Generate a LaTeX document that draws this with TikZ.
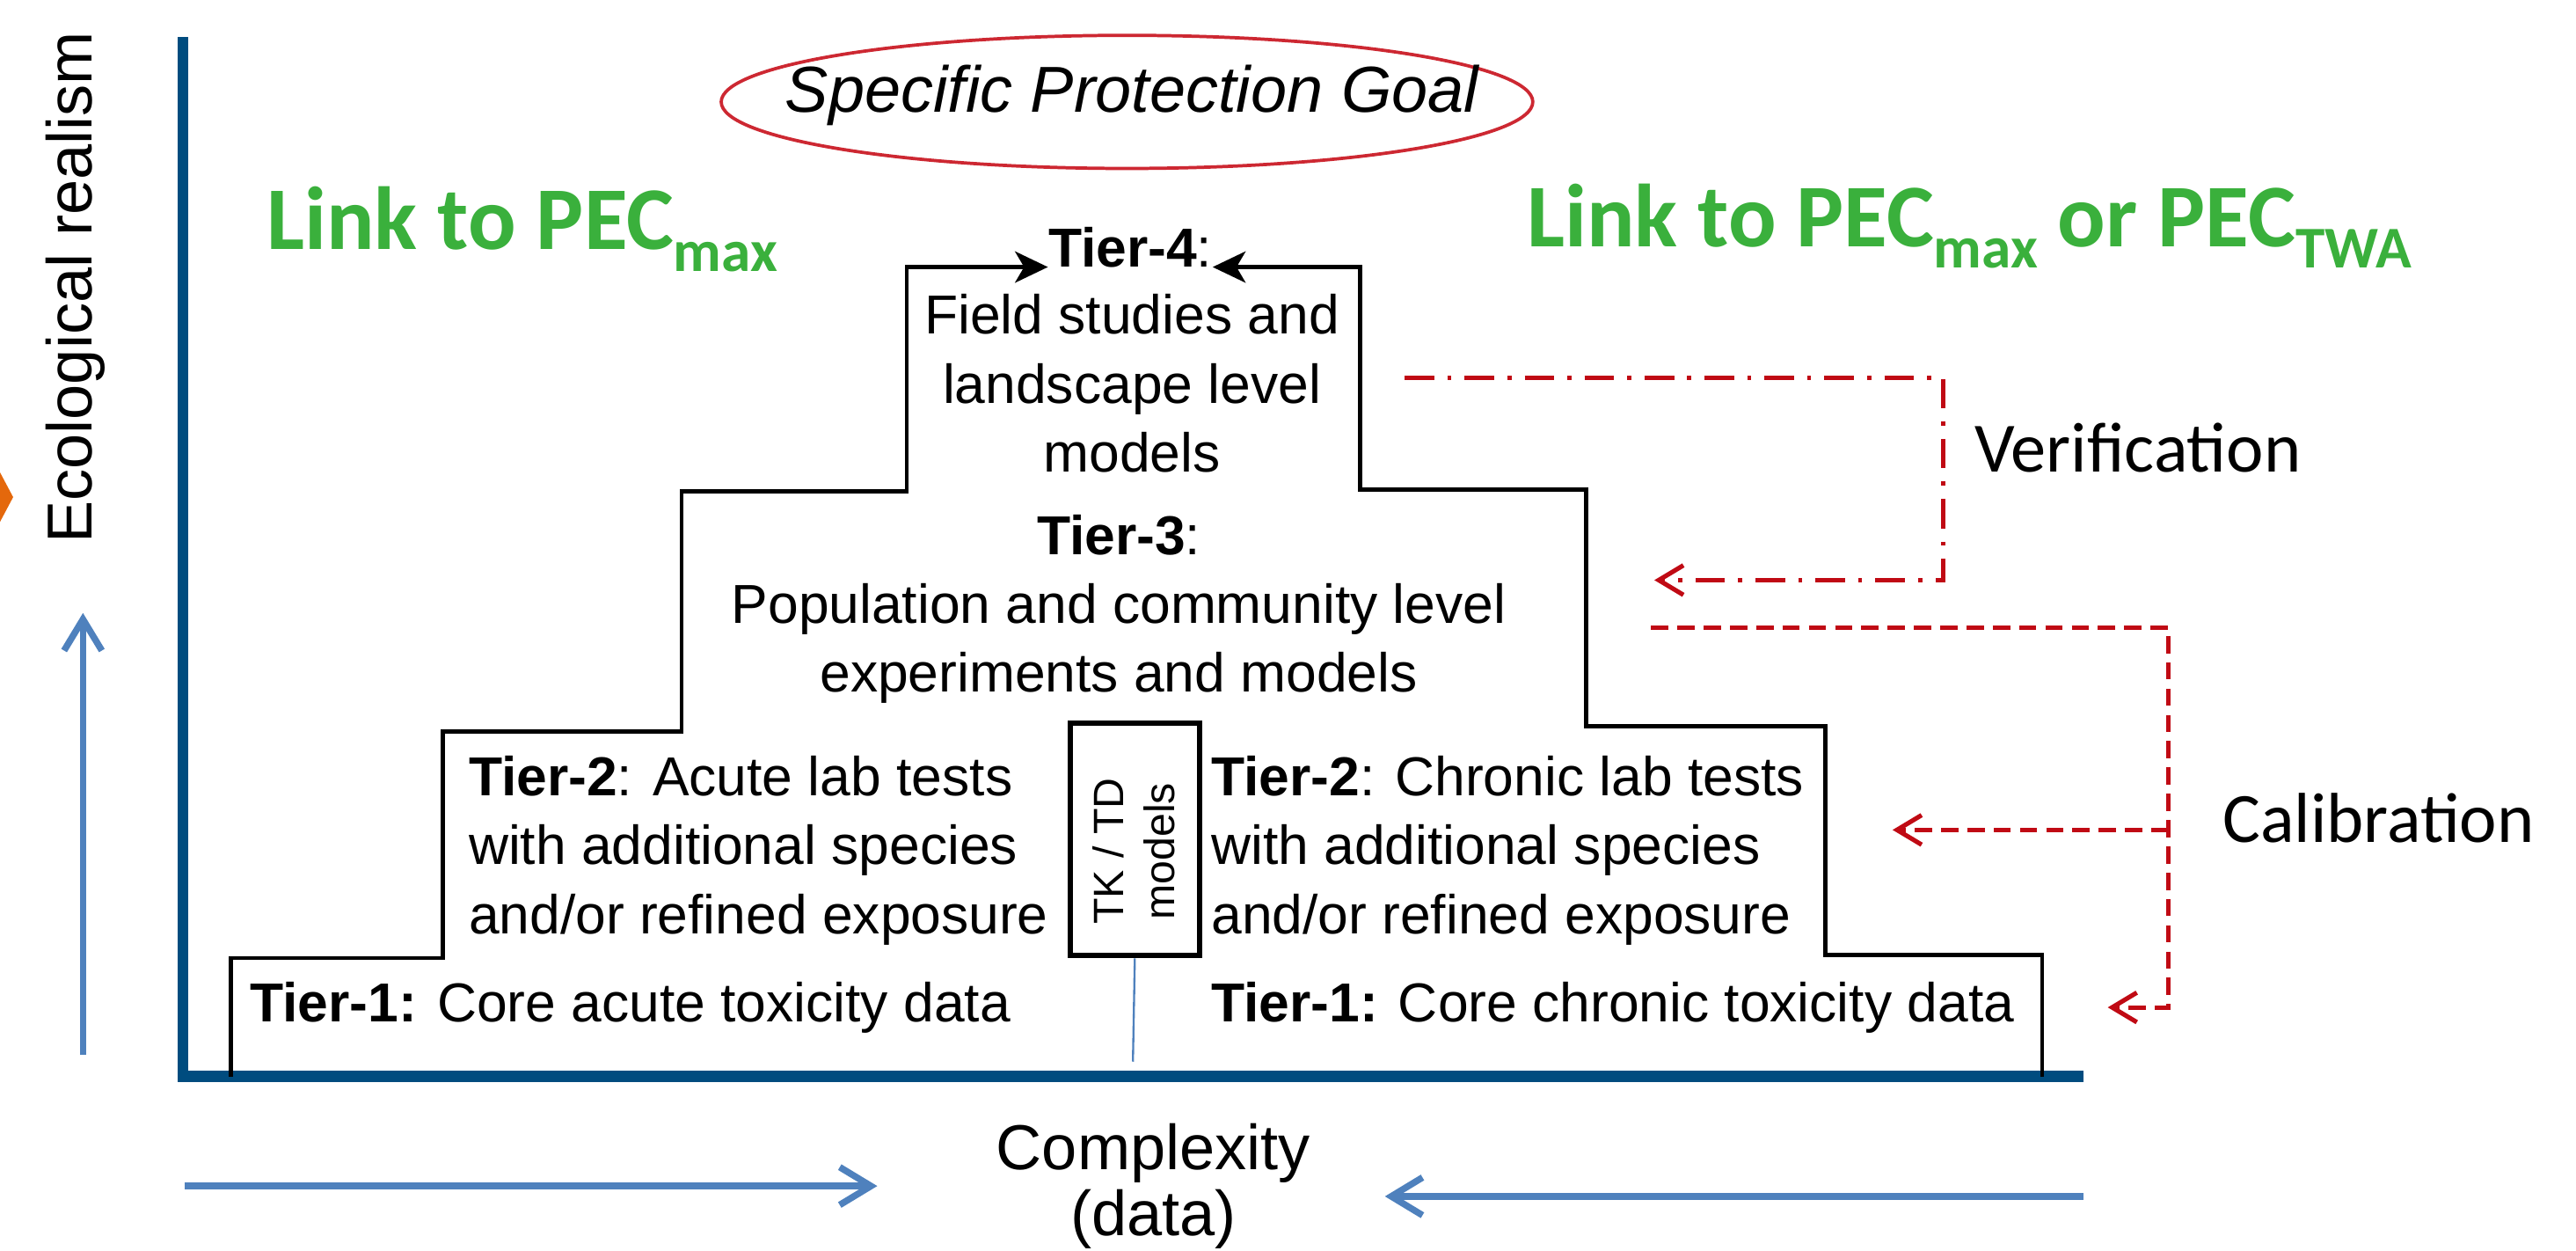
\documentclass[tikz,border=0pt]{standalone}
\usepackage{fontspec}
\setmainfont{Liberation Sans}
\newfontfamily\calfont{Carlito}
\usepackage{tikz}
\usetikzlibrary{arrows.meta,shapes.geometric}
\definecolor{axisblue}{RGB}{0,76,127}
\definecolor{trendblue}{RGB}{79,129,189}
\definecolor{linkgreen}{RGB}{58,176,60}
\definecolor{goalred}{RGB}{205,40,50}
\definecolor{loopred}{RGB}{192,10,20}
\definecolor{tabsorange}{RGB}{228,104,12}
\newcommand{\pecsub}[1]{\raisebox{-7.5pt}{\fontsize{20.5}{24}\selectfont #1}}

\begin{document}
\begin{tikzpicture}[
  x=0.2mm, y=-0.2mm,
  tiertext/.style = {anchor=base west, inner sep=0pt, align=left, font=\fontsize{19}{23.8}\selectfont},
  tierhead/.style = {anchor=base, inner sep=0pt, align=center, font=\fontsize{19}{23.8}\selectfont},
  stair/.style = {line width=0.5mm, black, line join=miter},
  stairarr/.style = {stair, -{Stealth[length=4mm,width=3.8mm,inset=1.1mm]}},
  axisline/.style = {line width=1.3mm, axisblue, line join=miter},
  trendarr/.style = {line width=0.8mm, trendblue, -{Straight Barb[length=3.8mm,width=4.6mm]}},
  axislabel/.style = {inner sep=0pt, align=center, font=\fontsize{22}{22.8}\selectfont},
  linktext/.style = {anchor=base west, inner sep=0pt, text=linkgreen, font=\calfont\bfseries\fontsize{31}{36}\selectfont},
  looplabel/.style = {anchor=base west, inner sep=0pt, font=\calfont\fontsize{24.5}{29}\selectfont},
  verifyline/.style = {loopred, line width=0.55mm, dash pattern=on 3.6mm off 1.6mm on 0.5mm off 1.6mm,
                       -{Straight Barb[length=3mm,width=3.6mm]}},
  calibline/.style = {loopred, line width=0.55mm, dash pattern=on 2.1mm off 1.1mm,
                      -{Straight Barb[length=3mm,width=3.6mm]}},
  goalring/.style = {ellipse, draw=goalred, line width=0.4mm, minimum width=98.8mm, minimum height=16.2mm, inner sep=0pt},
  tkframe/.style = {draw, line width=0.65mm, minimum width=15.7mm, minimum height=28.3mm, inner sep=0pt},
  tklabel/.style = {inner sep=0pt, align=center, font=\fontsize{14.7}{17.6}\selectfont}
]
\useasboundingbox (0,0) rectangle (1568,761);

\fill[tabsorange] (-5,278) -- (8,302.5) -- (-5,327) -- cycle;

% axes and trend arrows
\draw[axisline] (111.5,22.7) -- (111.5,655) -- (1268,655);
\coordinate (upA)  at (50.5,642);
\coordinate (upB)  at (50.5,373);
\coordinate (rgtA) at (112.6,721.7);
\coordinate (rgtB) at (534,721.7);
\coordinate (lftA) at (1268,728);
\coordinate (lftB) at (843,728);
\draw[trendarr] (upA) -- (upB);
\draw[trendarr] (rgtA) -- (rgtB);
\draw[trendarr] (lftA) -- (lftB);

\node[axislabel, anchor=base west, rotate=90] (realism) at (56,331) {Ecological realism};
% multi-line nodes sit on the baseline of their last line
\node[axislabel, anchor=base] (complexity) at (702,752) {Complexity\\(data)};

% protection goal and links
\node[goalring] (goalring) at (686,62) {};
\node[inner sep=0pt, font=\itshape\fontsize{22.5}{27}\selectfont] (goal) at (689,58) {Specific Protection Goal};
\node[linktext] (linkmax) at (162,152) {Link to PEC\pecsub{max}};
\node[linktext] (linktwa) at (929,150) {Link to PEC\pecsub{max} or PEC\pecsub{TWA}};

% tier texts
\node[tierhead] (t4head) at (688,162.5) {\textbf{Tier-4}:};
\node[tierhead] (t4body) at (689,287) {Field studies and\\landscape level\\models};
\node[tierhead] (t3) at (681,421) {\textbf{Tier-3}:\\Population and community level\\experiments and models};
\node[tiertext] (t2acute) at (285,568) {\textbf{Tier-2}: Acute lab tests\\with additional species\\and/or refined exposure};
\node[tiertext] (t2chron) at (737,568) {\textbf{Tier-2}: Chronic lab tests\\with additional species\\and/or refined exposure};
\node[tiertext] (t1acute) at (152,622) {\textbf{Tier-1:} Core acute toxicity data};
\node[tiertext] (t1chron) at (737,622) {\textbf{Tier-1:} Core chronic toxicity data};

% staircase
\draw[stairarr] (140.7,655) -- (140.7,583) -- (269.7,583) -- (269.7,445) -- (414.8,445)
  -- (414.8,299) -- (552,299) -- (552,162.5) -- (t4head.base west);
\draw[stairarr] (1243,655) -- (1243,581) -- (1111,581) -- (1111,442) -- (965.5,442)
  -- (965.5,298) -- (828,298) -- (828,162.5) -- (t4head.base east);

% TK/TD models
\node[tkframe] (tkbox) at (690.75,510.75) {};
\node[tklabel, rotate=90] (tklab) at (690,518) {TK / TD\\models};
\coordinate (tkfoot) at (689.6,646);
\draw[trendblue, line width=0.25mm] (tkbox.south) -- (tkfoot);

% verification and calibration loops
\coordinate (verA) at (855,230);
\coordinate (verB) at (1183,230);
\coordinate (verC) at (1183,353);
\coordinate (verD) at (1007,353);
\draw[verifyline] (verA) -- (verB) -- (verC) -- (verD);
\node[looplabel] (verif) at (1201.5,287) {Verification};

\coordinate (calA) at (1005,382);
\coordinate (calB) at (1320,382);
\coordinate (calC) at (1320,613);
\coordinate (calD) at (1283,613);
\coordinate (calM) at (1320,505);
\coordinate (calE) at (1152,505);
\draw[calibline] (calA) -- (calB) -- (calC) -- (calD);
\draw[calibline] (calM) -- (calE);
\node[looplabel] (calib) at (1352.6,512.6) {Calibration};
\end{tikzpicture}
\end{document}
